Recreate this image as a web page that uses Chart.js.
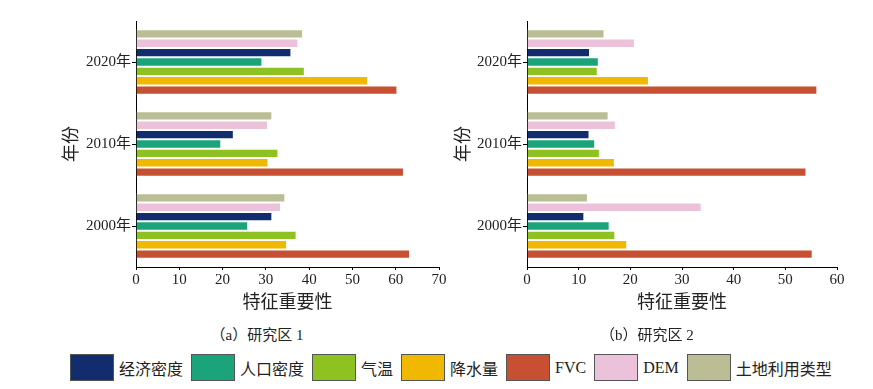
<!DOCTYPE html>
<html>
<head>
<meta charset="utf-8">
<script src="https://cdn.jsdelivr.net/npm/chart.js@4"></script>
<style>
  body { margin: 0; background: #fff; width: 873px; height: 389px; position: relative; overflow: hidden;
         font-family: 'Liberation Serif', 'Noto Sans CJK SC', serif; color: #222; }
  .box { position: absolute; }
  .sub { position: absolute; top: 323px; font-size: 15px; transform: translateX(-50%); white-space: nowrap; }
  #legend { position: absolute; left: 70px; top: 354px; display: flex; align-items: center; font-size: 16px; }
  #legend .sw { width: 42px; height: 25px; border: 1px solid #555; margin-right: 5px; }
  #legend .lb { margin-right: 8px; white-space: nowrap; }
</style>
</head>
<body>
<div class="box" style="left:55px; top:0; width:395px; height:316px;"><canvas id="chart1"></canvas></div>
<div class="box" style="left:447px; top:0; width:401px; height:316px;"><canvas id="chart2"></canvas></div>
<div class="sub" style="left:257px;">（a）研究区 1</div>
<div class="sub" style="left:647px;">（b）研究区 2</div>
<div id="legend"></div>

<script>
// categories (top to bottom)
const years = ['2020年', '2010年', '2000年'];

// series names and colours
const seriesNames = ['经济密度', '人口密度', '气温', '降水量', 'FVC', 'DEM', '土地利用类型'];
const seriesColors = ['#122d6e', '#1ba47a', '#8dc220', '#f0b900', '#c75033', '#ebc2da', '#bbbe95'];

// study area 1 feature importance, by year [2020, 2010, 2000]
const area1Econ     = [35.9, 22.6, 31.5];
const area1Pop      = [29.2, 19.7, 25.9];
const area1Temp     = [39.0, 32.9, 37.1];
const area1Precip   = [53.6, 30.6, 34.9];
const area1Fvc      = [60.4, 61.9, 63.3];
const area1Dem      = [37.5, 30.5, 33.5];
const area1LandUse  = [38.6, 31.5, 34.5];

// study area 2 feature importance, by year [2020, 2010, 2000]
const area2Econ     = [12.2, 12.1, 11.1];
const area2Pop      = [13.9, 13.2, 16.0];
const area2Temp     = [13.7, 14.1, 17.1];
const area2Precip   = [23.6, 17.0, 19.4];
const area2Fvc      = [56.2, 54.1, 55.3];
const area2Dem      = [20.9, 17.2, 33.8];
const area2LandUse  = [15.0, 15.8, 11.8];

// bars within each year are stacked top-down in this order
const drawOrder = [6, 5, 0, 1, 2, 3, 4];

const tickFont = { family: "'Liberation Serif', 'Noto Sans CJK SC'", size: 15 };
const titleFont = { family: "'Noto Sans CJK SC'", size: 18 };

function makeChart(id, series, xMax, yWidth) {
  const datasets = drawOrder.map(i => ({
    label: seriesNames[i],
    data: series[i],
    backgroundColor: seriesColors[i],
    borderColor: 'rgba(255,255,255,0.75)',
    borderWidth: 1,
    categoryPercentage: 0.8,
    barPercentage: 1.0,
  }));

  return new Chart(document.getElementById(id), {
    type: 'bar',
    data: { labels: years, datasets: datasets },
    options: {
      indexAxis: 'y',
      responsive: true,
      maintainAspectRatio: false,
      animation: false,
      layout: { padding: { top: 21, right: 11, left: 0, bottom: 0 } },
      plugins: { legend: { display: false }, tooltip: { enabled: false } },
      scales: {
        x: {
          min: 0,
          max: xMax,
          ticks: { stepSize: 10, color: '#222', font: tickFont, padding: 1, maxRotation: 0 },
          grid: { drawOnChartArea: false, tickLength: 3, color: '#000' },
          border: { color: '#000', width: 1 },
          title: { display: true, text: '特征重要性', color: '#222', font: titleFont, padding: { top: 4, bottom: 4 } },
          afterFit: (scale) => { scale.height = 49; }
        },
        y: {
          ticks: { color: '#222', font: tickFont, padding: 1 },
          grid: { drawOnChartArea: false, offset: false, tickLength: 4, color: '#000' },
          border: { color: '#000', width: 1 },
          title: { display: true, text: '年份', color: '#222', font: titleFont, padding: { top: 4, bottom: 4 } },
          afterFit: (scale) => { scale.width = yWidth; }
        }
      }
    }
  });
}

makeChart('chart1', [area1Econ, area1Pop, area1Temp, area1Precip, area1Fvc, area1Dem, area1LandUse], 70, 81);
makeChart('chart2', [area2Econ, area2Pop, area2Temp, area2Precip, area2Fvc, area2Dem, area2LandUse], 60, 80);

// shared legend
const legend = document.getElementById('legend');
seriesNames.forEach((name, i) => {
  const sw = document.createElement('div');
  sw.className = 'sw';
  sw.style.background = seriesColors[i];
  const lb = document.createElement('div');
  lb.className = 'lb';
  lb.textContent = name;
  legend.appendChild(sw);
  legend.appendChild(lb);
});
</script>
</body>
</html>
